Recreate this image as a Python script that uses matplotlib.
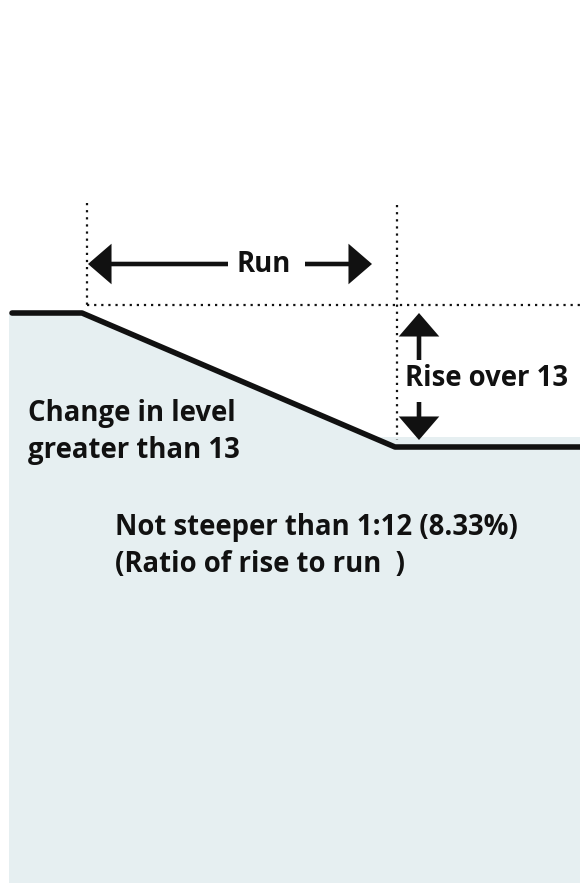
import matplotlib.pyplot as plt
from matplotlib.patches import Polygon, FancyArrowPatch

# Ramp profile (pixel coords, y grows downward)
profile_x = [12, 82, 395, 580]
profile_y = [313, 313, 447, 447]

# Shaded ground area
fill_x = [9, 82, 372, 580, 580, 9]
fill_y = [313, 313, 437, 437, 883, 883]

# Dotted guides
guide_v_x = [87, 397]
guide_v_top = [203, 205]
guide_v_bottom = [305, 440]
guide_h_y = 305

labels = ["Run", "Rise over 13", "Change in level\ngreater than 13",
          "Not steeper than 1:12 (8.33%)\n(Ratio of rise to run  )"]

FONT = ["Open Sans", "DejaVu Sans"]
INK = "#111111"
FS = 19.8

fig = plt.figure(figsize=(5.8, 8.83), dpi=100)
ax = fig.add_axes([0, 0, 1, 1])
ax.set_xlim(0, 580)
ax.set_ylim(883, 0)
ax.axis("off")

ax.add_patch(Polygon(list(zip(fill_x, fill_y)), closed=True,
                     facecolor="#e6eff1", edgecolor="none", zorder=1))
ax.plot(profile_x, profile_y, color=INK, lw=4, solid_capstyle="round",
        solid_joinstyle="round", zorder=3)

# guides
for x, t, b in zip(guide_v_x, guide_v_top, guide_v_bottom):
    ax.plot([x, x], [t, b], color=INK, lw=1.6, ls=(0, (1, 2.2)), zorder=2)
ax.plot([guide_v_x[0], 580], [guide_h_y, guide_h_y], color=INK, lw=1.6,
        ls=(0, (1, 2.2)), zorder=2)


def arrow(x0, y0, x1, y1):
    ax.add_patch(FancyArrowPatch((x0, y0), (x1, y1),
                                 arrowstyle="-|>,head_length=0.58,head_width=0.5",
                                 mutation_scale=22, lw=3.3, color=INK,
                                 joinstyle="miter", capstyle="butt",
                                 shrinkA=0, shrinkB=0, zorder=4))


# Run arrows
arrow(228, 264, 88, 264)
arrow(305, 264, 372, 264)
# Rise arrows
arrow(419, 360, 419, 313)
arrow(419, 402, 419, 440)

ax.text(264, 264, labels[0], ha="center", va="center", fontsize=FS,
        fontweight="bold", family=FONT, color=INK)
ax.text(405, 378, labels[1], ha="left", va="center", fontsize=FS,
        fontweight="bold", family=FONT, color=INK)
ax.text(28, 432, labels[2], ha="left", va="center", fontsize=FS,
        fontweight="bold", family=FONT, color=INK, linespacing=1.36)
ax.text(115, 546, labels[3], ha="left", va="center", fontsize=FS,
        fontweight="bold", family=FONT, color=INK, linespacing=1.36)

fig.savefig("out.png", dpi=100)
